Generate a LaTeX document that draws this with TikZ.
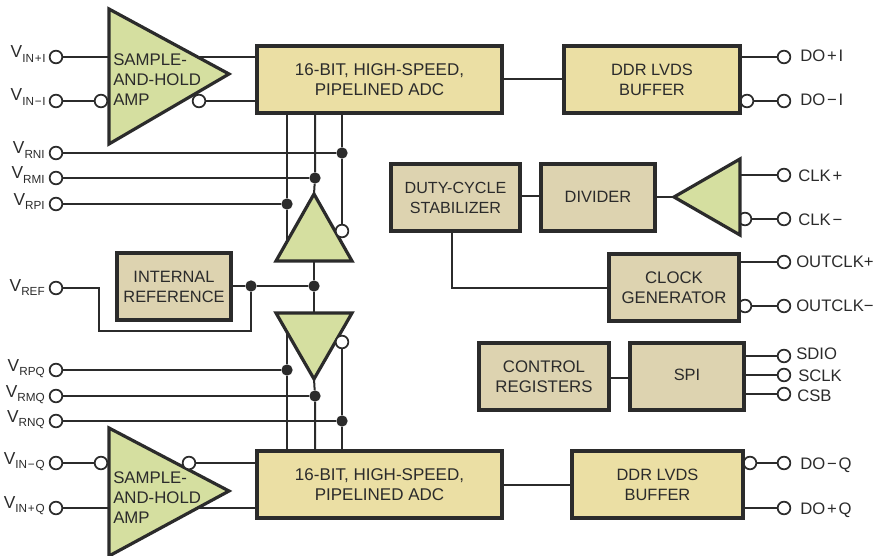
\documentclass[tikz,border=0pt]{standalone}
\usepackage{fontspec}
\setmainfont{Liberation Sans}
\usetikzlibrary{backgrounds,calc}
\definecolor{ink}{HTML}{2B2B2B}
\definecolor{tri}{HTML}{D5DFA0}
\definecolor{adc}{HTML}{EBDFA4}
\definecolor{tan}{HTML}{DDD3B0}
\newcommand{\Vsub}[1]{{\fontsize{13pt}{15pt}\selectfont V}\raisebox{-3.4pt}{\fontsize{8.8pt}{9pt}\selectfont #1}}
\newcommand{\Sg}[1]{\hspace{1.4pt}#1\hspace{1.4pt}}
\newcommand{\Sb}[1]{\hspace{0.6pt}#1\hspace{0.6pt}}
\tikzset{
  wire/.style={draw=ink,line width=1.5pt},
  blockbox/.style={draw=ink,line width=2.4pt,outer sep=0pt,anchor=north west,align=center,inner sep=0pt,text=ink,font=\fontsize{12.3pt}{15pt}\selectfont},
  adcbox/.style={blockbox,fill=adc},
  tanbox/.style={blockbox,fill=tan},
  amp/.style={draw=ink,line width=2.4pt,fill=tri,line join=miter},
  pin/.style={circle,draw=ink,line width=1.3pt,fill=white,minimum size=9.5pt,inner sep=0pt},
  dot/.style={circle,fill=ink,minimum size=8.5pt,inner sep=0pt},
  leftlab/.style={anchor=base east,text=ink,inner sep=0pt,font=\fontsize{12.3pt}{15pt}\selectfont},
  rightlab/.style={anchor=base west,text=ink,inner sep=0pt,font=\fontsize{12.5pt}{15pt}\selectfont},
  amptext/.style={anchor=base west,text=ink,inner sep=0pt,font=\fontsize{12.6pt}{15pt}\selectfont},
}
\newcommand{\Block}[7]{% style,name,x0,y0,x1,y1,text
  \node[#1,minimum width=#5*0.75pt-#3*0.75pt,minimum height=#6*0.75pt-#4*0.75pt] (#2) at (#3,#4) {#7};}
\begin{document}
\begin{tikzpicture}[x=0.75pt,y=-0.75pt]
\useasboundingbox (0,0) rectangle (874,556);
% bubbles that sit behind the blocks
\foreach \n/\x/\y in {b7/745/219,b8/745/306,b9/747/101,b10/750/463}
  \node[pin] (\n) at (\x,\y) {};
% amplifiers
\coordinate (sha1a) at (109,9); \coordinate (sha1b) at (109,144); \coordinate (sha1c) at (229,74);
\coordinate (sha2a) at (109,428); \coordinate (sha2b) at (109,556); \coordinate (sha2c) at (229,491);
\coordinate (upa) at (314,194); \coordinate (upb) at (276,261); \coordinate (upc) at (352,261);
\coordinate (dna) at (314,379); \coordinate (dnb) at (276,313); \coordinate (dnc) at (352,313);
\coordinate (cka) at (674,197); \coordinate (ckb) at (740,159); \coordinate (ckc) at (740,235);
\draw[amp] (sha1a)--(sha1c)--(sha1b)--cycle;
\draw[amp] (sha2a)--(sha2c)--(sha2b)--cycle;
\draw[amp] (upa)--(upb)--(upc)--cycle;
\draw[amp] (dna)--(dnb)--(dnc)--cycle;
\draw[amp] (cka)--(ckb)--(ckc)--cycle;
% blocks
\tikzset{adcfont/.style={font=\fontsize{12.75pt}{15pt}\selectfont},widefont/.style={font=\fontsize{12.6pt}{15pt}\selectfont},narrowfont/.style={font=\fontsize{12.1pt}{15pt}\selectfont}}
\Block{adcbox,adcfont}{adcI}{257}{46}{502}{113}{16-BIT, HIGH-SPEED,\\PIPELINED ADC}
\Block{adcbox,adcfont}{adcQ}{257}{451}{502}{518}{16-BIT, HIGH-SPEED,\\PIPELINED ADC}
\Block{adcbox}{ddrI}{564}{46}{740}{113}{DDR LVDS\\BUFFER}
\Block{adcbox}{ddrQ}{572}{451}{743}{518}{DDR LVDS\\BUFFER}
\Block{tanbox}{iref}{117}{253}{231}{320}{INTERNAL\\REFERENCE}
\Block{tanbox,narrowfont}{duty}{391}{164}{520}{231}{DUTY-CYCLE\\STABILIZER}
\Block{tanbox}{divd}{541}{164}{655}{231}{\raisebox{0.8pt}{DIVIDER}}
\Block{tanbox,widefont}{cgen}{609}{254}{739}{321}{CLOCK\\GENERATOR}
\Block{tanbox,widefont}{creg}{479}{343}{609}{410}{CONTROL\\REGISTERS}
\Block{tanbox}{spi}{630}{343}{744}{410}{\raisebox{2.2pt}{SPI}}
% left pins
\foreach \n/\y in {vinpi/57,vinmi/101,vrni/153,vrmi/178,vrpi/204,vref/288,vrpq/370,vrmq/396,vrnq/421,vinmq/463,vinpq/508}
  \node[pin] (\n) at (56,\y) {};
% right pins
\foreach \n/\y in {dopi/57,domi/101,clkp/175,clkm/219,oclkp/262,oclkm/306,sdio/356,sclk/375,csb/394,domq/463,dopq/508}
  \node[pin] (\n) at (784,\y) {};
% inversion bubbles
\foreach \n/\x/\y in {b1/101/101,b2/199/101,b3/101/463,b4/189/463,b5/342/231,b6/342/342}
  \node[pin] (\n) at (\x,\y) {};
% junctions
\foreach \n/\x/\y in {jrni/342/153,jrmi/315/178,jrpi/287/204,jrpq/287/370,jrmq/315/396,jrnq/342/421,jr1/251/286,jr2/314/286}
  \node[dot] (\n) at (\x,\y) {};
% wires
\begin{scope}[on background layer]
\draw[wire] (vinpi) -- (vinpi -| adcI.west);
\draw[wire] (vinmi) -- (b1);
\draw[wire] (b2) -- (b2 -| adcI.west);
\draw[wire] (vinmq) -- (b3);
\draw[wire] (b4) -- (b4 -| adcQ.west);
\draw[wire] (vinpq) -- (vinpq -| adcQ.west);
\draw[wire] (vrni) -- (jrni);
\draw[wire] (vrmi) -- (jrmi);
\draw[wire] (vrpi) -- (jrpi);
\draw[wire] (vrpq) -- (jrpq);
\draw[wire] (vrmq) -- (jrmq);
\draw[wire] (vrnq) -- (jrnq);
\draw[wire] (jrpi |- adcI.south) -- (jrpi) -- (jrpi |- upb);
\draw[wire] (jrmi |- adcI.south) -- (jrmi) -- (upa);
\draw[wire] (jrni |- adcI.south) -- (jrni) -- (b5);
\draw[wire] (jrpq |- adcQ.north) -- (jrpq) -- (jrpq |- dnb);
\draw[wire] (jrmq |- adcQ.north) -- (jrmq) -- (dna);
\draw[wire] (jrnq |- adcQ.north) -- (jrnq) -- (b6);
\draw[wire] (upa) -- (jr2) -- (dna);
\draw[wire] (iref.east |- jr1) -- (jr1) -- (jr2);
\draw[wire] (vref) -- ++(43,0) |- (99,331) -| (jr1);
\draw[wire] (adcI.east |- 0,79) -- (ddrI.west |- 0,79);
\draw[wire] (adcQ.east |- 0,485) -- (ddrQ.west |- 0,485);
\draw[wire] (ddrI.east |- dopi) -- (dopi);
\draw[wire] (b9) -- (domi);
\draw[wire] (b10) -- (domq);
\draw[wire] (ddrQ.east |- dopq) -- (dopq);
\draw[wire] (duty.east |- 0,196) -- (divd.west |- 0,196);
\draw[wire] (divd.east |- cka) -- (cka);
\draw[wire] (ckb |- clkp) -- (clkp);
\draw[wire] (b7) -- (clkm);
\draw[wire] (cgen.east |- oclkp) -- (oclkp);
\draw[wire] (b8) -- (oclkm);
\draw[wire] (452,231) |- (cgen.west |- 0,288);
\draw[wire] (creg.east |- 0,378) -- (spi.west |- 0,378);
\draw[wire] (spi.east |- sdio) -- (sdio);
\draw[wire] (spi.east |- sclk) -- (sclk);
\draw[wire] (spi.east |- csb) -- (csb);
\end{scope}
% amplifier text
\node[amptext] (t1a) at (113,66) {SAMPLE-};
\node[amptext] (t1b) at (113,86) {AND-HOLD};
\node[amptext] (t1c) at (113,106) {AMP};
\node[amptext] (t2a) at (113,483) {SAMPLE-};
\node[amptext] (t2b) at (113,503) {AND-HOLD};
\node[amptext] (t2c) at (113,523) {AMP};
% left labels
\node[leftlab] (lvinpi) at (46,58) {\Vsub{IN\Sb{+}I}};
\node[leftlab] (lvinmi) at (46,101) {\Vsub{IN\Sb{−}I}};
\node[leftlab] (lvrni) at (45,154) {\Vsub{RNI}};
\node[leftlab] (lvrmi) at (45,179) {\Vsub{RMI}};
\node[leftlab] (lvrpi) at (45,205) {\Vsub{RPI}};
\node[leftlab] (lvref) at (45,291) {\Vsub{REF}};
\node[leftlab] (lvrpq) at (45,371) {\Vsub{RPQ}};
\node[leftlab] (lvrmq) at (45,397) {\Vsub{RMQ}};
\node[leftlab] (lvrnq) at (45,422) {\Vsub{RNQ}};
\node[leftlab] (lvinmq) at (45,464) {\Vsub{IN\Sb{−}Q}};
\node[leftlab] (lvinpq) at (45,508) {\Vsub{IN\Sb{+}Q}};
% right labels
\node[rightlab] (ldopi) at (800,62) {DO\Sg{+}I};
\node[rightlab] (ldomi) at (800,106) {DO\Sg{−}I};
\node[rightlab] (lclkp) at (798,181) {CLK\Sg{+}};
\node[rightlab] (lclkm) at (798,225) {CLK\Sg{−}};
\node[rightlab] (loclkp) at (796,267) {OUTCLK+};
\node[rightlab] (loclkm) at (796,311) {OUTCLK−};
\node[rightlab] (lsdio) at (796,359) {SDIO};
\node[rightlab] (lsclk) at (798,381) {SCLK};
\node[rightlab] (lcsb) at (797,401) {CSB};
\node[rightlab] (ldomq) at (800,469) {DO\Sg{−}Q};
\node[rightlab] (ldopq) at (800,514) {DO\Sg{+}Q};
\end{tikzpicture}
\end{document}
